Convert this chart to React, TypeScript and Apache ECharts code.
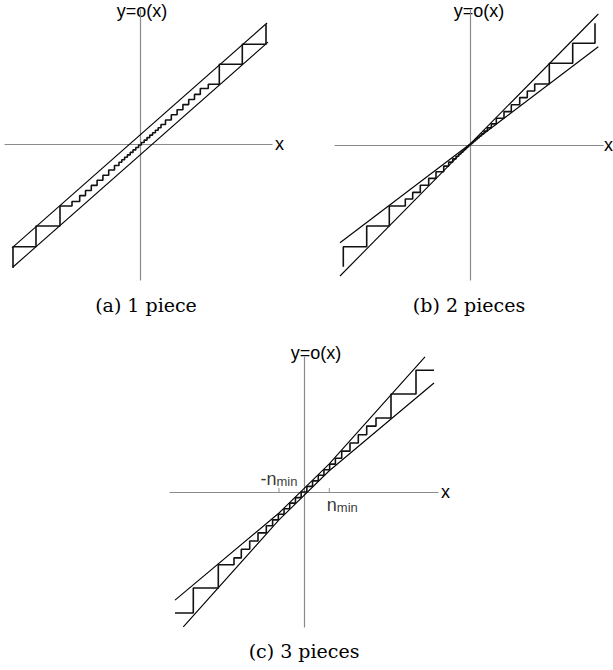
import React, { useEffect, useRef } from "react";
import * as echarts from "echarts";

// Panel (a): one piece — two parallel bounds
const boundA_hi_x = [-128, 127];
const boundA_hi_y = [-103.9, 121];
const boundA_lo_x = [-127, 128];
const boundA_lo_y = [-123, 101.9];
const stairA_x = [-127, -127, -104, -80, -68, -60.3, -54.5, -48.7, -42.9, -37.1, -31.3, -25.5, -21, -18.2, -15.4, -12.6, -9.8, -7, -4.2, -1.4, 1.4, 4.2, 7, 9.8, 12.6, 15.4, 18.2, 21, 25.5, 31.3, 37.1, 42.9, 48.7, 54.5, 60.3, 68.3, 79.3, 102.3, 126];
const stairA_y = [-124, -102.7, -82, -62, -57.5, -51.6, -46.5, -41.4, -36.3, -31.2, -26, -21.5, -18.3, -15.8, -13.3, -10.9, -8.4, -5.9, -3.5, -1, 1.5, 3.9, 6.4, 8.9, 11.3, 13.8, 16.3, 19.5, 24, 29.2, 34.3, 39.4, 44.5, 49.6, 55.5, 59.7, 79.7, 99.7, 119.7];

// Panel (b): two pieces — bounds through the origin
const boundB_hi_x = [-130, 128.3];
const boundB_hi_y = [-131, 131];
const boundB_lo_x = [-130, 128.3];
const boundB_lo_y = [-97.7, 98.3];
const stairB_x = [-126.7, -126.7, -103.3, -80.7, -64.7, -57.3, -49.7, -41.3, -34, -26.3, -21.3, -17.3, -14, -11.3, -9, -7, -5.3, -4, -3, -2.2, -1.6, -1.1, -0.7, 0.7, 1.1, 1.6, 2.2, 3, 4, 5.3, 7, 9, 11.3, 14, 17.3, 21.3, 26.3, 34, 41.3, 49.7, 57.3, 64.7, 79.3, 102.7, 125];
const stairB_y = [-121.7, -101.7, -81, -61, -54, -47.4, -40.3, -33.4, -26.7, -21.1, -17.1, -13.9, -11.2, -9, -7.1, -5.4, -4.1, -3.1, -2.3, -1.7, -1.2, -0.8, 0, 0.8, 1.2, 1.7, 2.3, 3.1, 4.1, 5.4, 7.1, 9, 11.2, 13.9, 17.1, 21.1, 26.7, 33.4, 40.3, 47.4, 54, 61, 81.7, 101.7, 121.7];

// Panel (c): three pieces — parallel band inside [-n_min, n_min]
const boundC_hi_x = [-129, -25, 25, 121];
const boundC_hi_y = [-108.2, -21, 27.9, 135.2];
const boundC_lo_x = [-120.7, -25, 25, 130];
const boundC_lo_y = [-134.8, -27.9, 21, 109];
const stairC_x = [-129, -110.7, -85.7, -70, -62.7, -54.3, -46, -37.7, -31.4, -25.65, -19.95, -14.25, -8.55, -2.85, 2.85, 8.55, 14.25, 19.95, 25.65, 31.4, 37.7, 46, 54.3, 62.7, 72, 87, 112, 130];
const stairC_y = [-121, -96, -72.7, -65.9, -57.2, -49, -40.9, -33.8, -27.9, -22.3, -16.7, -11.1, -5.6, 0, 5.6, 11.1, 16.7, 22.3, 27.9, 33.8, 40.9, 49, 57.2, 65.9, 74, 98, 121.7, 121.7];
const nMinNeg = [-25, 0];
const nMinPos = [25.3, 0];

const captions = ["(a) 1 piece", "(b) 2 pieces", "(c) 3 pieces"];
const xName = "x";
const yName = "y=o(x)";

const zip = (xs: number[], ys: number[]) => xs.map((x, i) => [x, ys[i]]);

const AXIS_GRAY = "#8a8a8a";
const SANS = "Liberation Sans";

function makeX(i: number, min: number, max: number, gap: number) {
  return {
    type: "value",
    gridIndex: i,
    min,
    max,
    axisLine: { show: true, onZero: true, lineStyle: { color: AXIS_GRAY, width: 1.2 } },
    axisTick: { show: false },
    axisLabel: { show: false },
    splitLine: { show: false },
    name: xName,
    nameLocation: "end",
    nameGap: gap,
    nameTextStyle: { fontFamily: SANS, fontSize: 18, color: "#000", verticalAlign: "middle" },
  };
}

function makeY(i: number, min: number, max: number, padLeft: number, gap: number) {
  return {
    type: "value",
    gridIndex: i,
    min,
    max,
    axisLine: { show: true, onZero: true, lineStyle: { color: AXIS_GRAY, width: 1.2 } },
    axisTick: { show: false },
    axisLabel: { show: false },
    splitLine: { show: false },
    name: yName,
    nameLocation: "end",
    nameGap: gap,
    nameTextStyle: {
      fontFamily: SANS,
      fontSize: 18,
      color: "#000",
      align: "center",
      verticalAlign: "bottom",
      padding: [0, 0, 0, padLeft],
    },
  };
}

function boundSeries(i: number, xs: number[], ys: number[]) {
  return {
    type: "line",
    xAxisIndex: i,
    yAxisIndex: i,
    data: zip(xs, ys),
    symbol: "none",
    clip: false,
    silent: true,
    lineStyle: { color: "#000", width: 1.1 },
  };
}

function stairSeries(i: number, xs: number[], ys: number[]) {
  return {
    type: "line",
    xAxisIndex: i,
    yAxisIndex: i,
    data: zip(xs, ys),
    step: "end",
    symbol: "none",
    clip: false,
    silent: true,
    lineStyle: { color: "#111", width: 1.6 },
  };
}

const captionStyle = {
  fontFamily: "DejaVu Serif",
  fontSize: 19,
  fill: "#000",
  textAlign: "center",
  textVerticalAlign: "middle",
  align: "center",
  verticalAlign: "middle",
};

export default function App() {
  const ref = useRef<HTMLDivElement>(null);
  useEffect(() => {
    if (!ref.current) return;
    const chart = echarts.init(ref.current, null, { renderer: "svg" });
    const option = {
      animation: false,
      backgroundColor: "#fff",
      grid: [
        { left: 5, top: 10, width: 267, height: 270, outerBoundsMode: "none", containLabel: false },
        { left: 335, top: 10, width: 268, height: 270, outerBoundsMode: "none", containLabel: false },
        { left: 170, top: 357, width: 268, height: 270, outerBoundsMode: "none", containLabel: false },
      ],
      xAxis: [makeX(0, -135, 132, 3), makeX(1, -135, 133, 1), makeX(2, -134, 134, 3)],
      yAxis: [
        makeY(0, -136, 134, 4, -10),
        makeY(1, -135, 135, 18, -10),
        makeY(2, -135, 135, 24, -5),
      ],
      series: [
        boundSeries(0, boundA_hi_x, boundA_hi_y),
        boundSeries(0, boundA_lo_x, boundA_lo_y),
        stairSeries(0, stairA_x, stairA_y),
        boundSeries(1, boundB_hi_x, boundB_hi_y),
        boundSeries(1, boundB_lo_x, boundB_lo_y),
        stairSeries(1, stairB_x, stairB_y),
        boundSeries(2, boundC_hi_x, boundC_hi_y),
        boundSeries(2, boundC_lo_x, boundC_lo_y),
        stairSeries(2, stairC_x, stairC_y),
        {
          type: "scatter",
          xAxisIndex: 2,
          yAxisIndex: 2,
          data: [nMinNeg],
          symbol: "rect",
          symbolSize: [1, 4],
          symbolOffset: [0, -2],
          itemStyle: { color: "#777" },
          silent: true,
          label: {
            show: true,
            position: "top",
            distance: 2,
            offset: [0, 6],
            formatter: "{a|-n}{b|min}",
            rich: {
              a: { fontFamily: SANS, fontSize: 18, color: "#000", padding: [0, 0, 4, 0] },
              b: { fontFamily: SANS, fontSize: 13, color: "#000" },
            },
          },
        },
        {
          type: "scatter",
          xAxisIndex: 2,
          yAxisIndex: 2,
          data: [nMinPos],
          symbol: "rect",
          symbolSize: [1, 4],
          symbolOffset: [0, -2],
          itemStyle: { color: "#777" },
          silent: true,
          label: {
            show: true,
            position: "bottom",
            distance: 4,
            offset: [13, 0],
            formatter: "{a|n}{b|min}",
            rich: {
              a: { fontFamily: SANS, fontSize: 18, color: "#000", padding: [0, 0, 4, 0] },
              b: { fontFamily: SANS, fontSize: 13, color: "#000" },
            },
          },
        },
      ],
      graphic: [
        { type: "text", x: 146, y: 305, style: { ...captionStyle, text: captions[0] } },
        { type: "text", x: 469, y: 305, style: { ...captionStyle, text: captions[1] } },
        { type: "text", x: 304, y: 651, style: { ...captionStyle, text: captions[2] } },
      ],
    };
    chart.setOption(option as any);
    return () => chart.dispose();
  }, []);
  return (
    <div
      ref={ref}
      style={{ position: "absolute", left: 0, top: 0, width: 613, height: 670, background: "#fff" }}
    />
  );
}
